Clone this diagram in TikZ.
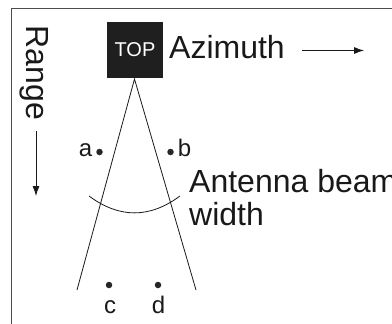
\documentclass[tikz,border=0pt]{standalone}
\usepackage{fontspec}
\setmainfont{Liberation Sans}
\usetikzlibrary{arrows.meta}
\begin{document}
\begin{tikzpicture}[x=1pt,y=-1pt,
  big/.style={font=\fontsize{32}{36}\selectfont, inner sep=0pt, text=black!90},
  lbl/.style={font=\fontsize{24}{28}\selectfont, inner sep=0pt, anchor=base, text=black!90},
  beam/.style={line width=0.8pt, black!90},
  spot/.style={circle, fill=black!85, inner sep=0pt, minimum size=6.5pt},
  dirarrow/.style={line width=0.8pt, black!90, -{Latex[length=10pt,width=7pt]}}]
\useasboundingbox (0,0) rectangle (392,324);
% frame (runs off the right and bottom edges)
\draw[line width=0.9pt, black!70] (11.5,340) -- (11.5,8.5) -- (410,8.5);

% antenna block
\node[fill=black!88, minimum width=56pt, minimum height=56pt, inner sep=0pt,
      text=white, font=\fontsize{20}{24}\selectfont] (top) at (135,50) {TOP};
\coordinate (apex) at (134.5,79);
\coordinate (leftend) at (77,290);
\coordinate (rightend) at (196,290);
\draw[beam] (leftend) -- (apex) -- (rightend);

% beam-width arc
\coordinate (arcL) at (89,196);
\coordinate (arcR) at (180,196);
\draw[beam] (arcL) .. controls (119.5,218.5) and (149.5,218.5) .. (arcR);

% axis labels
\node[big, anchor=base west] (az) at (169,59) {Azimuth};
\coordinate (azS) at (302,50.5);
\coordinate (azE) at (364,50.5);
\draw[dirarrow] (azS) -- (azE);

\node[big, rotate=-90] (rng) at (34,73) {Range};
\coordinate (rgS) at (36,131);
\coordinate (rgE) at (36,196);
\draw[dirarrow] (rgS) -- (rgE);

\node[big, anchor=base west] (bw1) at (189,192) {Antenna beam};
\node[big, anchor=base west] (bw2) at (189,225) {width};

% target points
\node[spot] (pa) at (99.5,152) {};
\node[spot] (pb) at (170.5,152) {};
\node[spot] (pc) at (109,285) {};
\node[spot] (pd) at (158,285) {};
\node[lbl] (la) at (85.5,157) {a};
\node[lbl] (lb) at (184.5,157) {b};
\node[lbl] (lc) at (110,313) {c};
\node[lbl] (ld) at (158.5,313) {d};
\end{tikzpicture}
\end{document}
